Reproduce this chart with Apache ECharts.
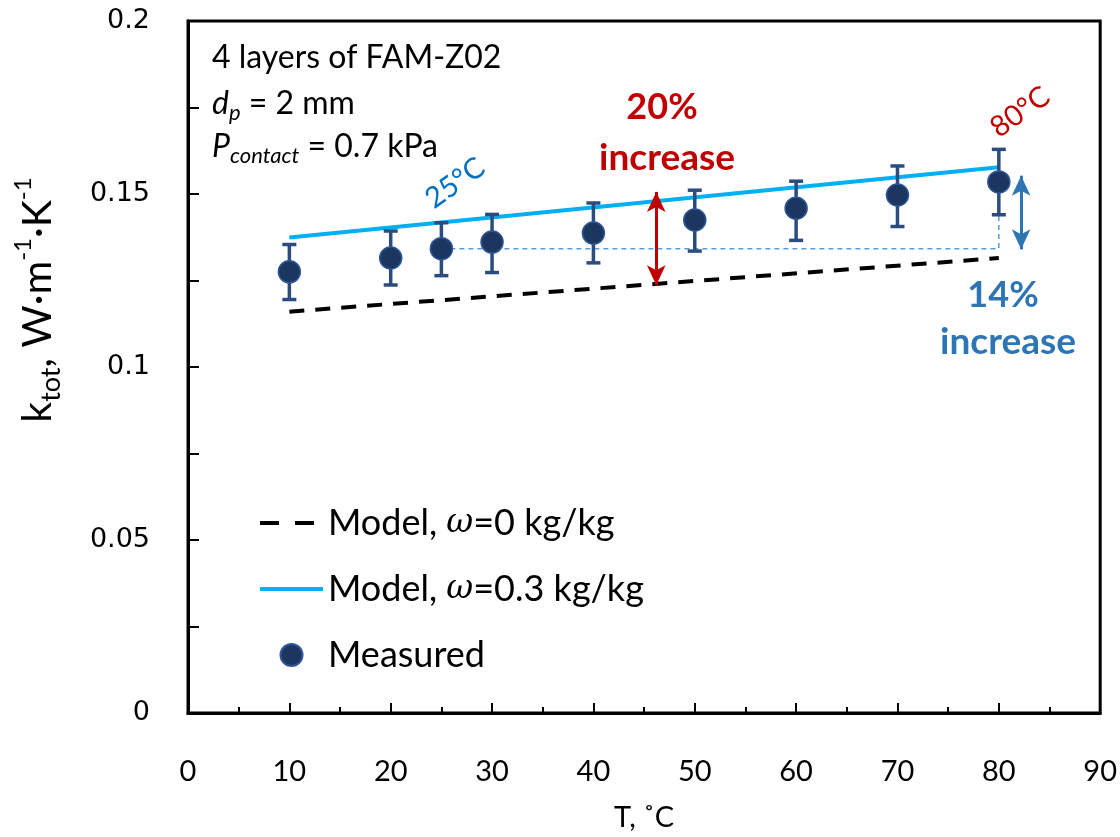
<!DOCTYPE html>
<html>
<head>
<meta charset="utf-8">
<script src="https://cdn.jsdelivr.net/npm/echarts@6/dist/echarts.min.js"></script>
<style>html,body{margin:0;padding:0;background:#fff}#c{width:1120px;height:837px}</style>
</head>
<body>
<div id="c"></div>
<script>
// ---- data ----
const T = [10, 20, 25, 30, 40, 50, 60, 70, 80];
const measured = [0.1275, 0.1315, 0.1342, 0.1361, 0.1387, 0.1425, 0.1459, 0.1497, 0.1535];
const errLow  = [0.1195, 0.1237, 0.1264, 0.1273, 0.1301, 0.1335, 0.1366, 0.1406, 0.1440];
const errHigh = [0.1354, 0.1393, 0.1417, 0.1441, 0.1474, 0.1511, 0.1537, 0.1581, 0.1629];
const modelT = [10, 80];
const modelDry = [0.1160, 0.1315];
const modelWet = [0.1374, 0.1577];
const refT = [25, 80, 80];
const refK = [0.1342, 0.1342, 0.1577];
const arrowRed = [[46.2, 0.1236], [46.2, 0.1506]];
const arrowBlue = [[82.2, 0.1340], [82.2, 0.1553]];
const xTicks = [0, 90, 10];
const yTicks = [0, 0.2, 0.05];
const seriesNames = ['Model, ω=0 kg/kg', 'Model, ω=0.3 kg/kg', 'Measured'];

const chart = echarts.init(document.getElementById('c'));
const zip = (a, b) => a.map((v, i) => [v, b[i]]);
const F = 'Lato';

const option = {
  animation: false,
  grid: { left: 188, right: 19, top: 21, bottom: 120, show: true, borderColor: '#000', borderWidth: 3, containLabel: false },
  xAxis: {
    type: 'value', min: xTicks[0], max: xTicks[1], interval: xTicks[2],
    name: 'T, ˚C', nameLocation: 'middle', nameGap: 90,
    nameTextStyle: { fontFamily: F, fontSize: 29, color: '#000' },
    axisLine: { show: true, onZero: false, lineStyle: { color: '#000', width: 3 } },
    axisTick: { show: true, inside: true, length: 10, lineStyle: { color: '#000', width: 2 } },
    minorTick: { show: true, splitNumber: 2, length: 6, lineStyle: { color: '#000', width: 2 } },
    axisLabel: { margin: 44, fontFamily: F, fontSize: 29, color: '#000' },
    splitLine: { show: false }
  },
  yAxis: {
    type: 'value', min: yTicks[0], max: yTicks[1], interval: yTicks[2],
    axisLine: { show: true, onZero: false, lineStyle: { color: '#000', width: 3 } },
    axisTick: { show: true, inside: true, length: 11, lineStyle: { color: '#000', width: 2 } },
    minorTick: { show: true, splitNumber: 2, length: 11, lineStyle: { color: '#000', width: 2 } },
    axisLabel: { margin: 38, fontFamily: 'DejaVu Sans', fontSize: 27, color: '#000' },
    splitLine: { show: false }
  },
  legend: {
    orient: 'vertical', left: 253, top: 496,
    itemWidth: 63, itemHeight: 22, itemGap: 22,
    data: [
      { name: seriesNames[0], itemStyle: { opacity: 0 }, lineStyle: { type: [19, 16], width: 4 } },
      { name: seriesNames[1], itemStyle: { opacity: 0 }, lineStyle: { width: 4 } },
      { name: seriesNames[2] }
    ],
    formatter: n => n.replace('ω', '{i|ω}'),
    textStyle: { fontFamily: F, fontSize: 36, color: '#000', lineHeight: 44,
      rich: { i: { fontFamily: 'DejaVu Serif', fontStyle: 'italic', fontSize: 33, color: '#000' } } }
  },
  series: [
    {
      name: seriesNames[0], type: 'line', data: zip(modelT, modelDry), symbol: 'none',
      lineStyle: { color: '#000', width: 4, type: [15, 11] }, itemStyle: { color: '#000' }, z: 3
    },
    {
      name: seriesNames[1], type: 'line', data: zip(modelT, modelWet), symbol: 'none',
      lineStyle: { color: '#00B0F0', width: 4 }, itemStyle: { color: '#00B0F0' }, z: 3
    },
    {
      name: 'ref', type: 'line', data: zip(refT, refK), symbol: 'none', silent: true,
      lineStyle: { color: '#5B9BD5', width: 1.5, type: [5, 4] }, z: 2,
      markLine: {
        silent: true, symbol: ['arrow', 'arrow'], symbolSize: [14, 20],
        label: { show: false },
        data: [
          [{ coord: arrowRed[0], lineStyle: { color: '#C00000', width: 3, type: 'solid' }, itemStyle: { color: '#C00000' } },
           { coord: arrowRed[1] }],
          [{ coord: arrowBlue[0], lineStyle: { color: '#2E75B6', width: 3, type: 'solid' }, itemStyle: { color: '#2E75B6' } },
           { coord: arrowBlue[1] }]
        ]
      }
    },
    {
      name: 'err', type: 'custom', z: 4,
      data: T.map((t, i) => [t, errLow[i], errHigh[i]]),
      renderItem: (params, api) => {
        const lo = api.coord([api.value(0), api.value(1)]);
        const hi = api.coord([api.value(0), api.value(2)]);
        const w = 7;
        const st = { stroke: '#2B4C7E', lineWidth: 3.5 };
        return { type: 'group', children: [
          { type: 'line', shape: { x1: lo[0], y1: lo[1], x2: hi[0], y2: hi[1] }, style: st },
          { type: 'line', shape: { x1: lo[0] - w, y1: lo[1], x2: lo[0] + w, y2: lo[1] }, style: st },
          { type: 'line', shape: { x1: hi[0] - w, y1: hi[1], x2: hi[0] + w, y2: hi[1] }, style: st }
        ]};
      }
    },
    {
      name: seriesNames[2], type: 'scatter', data: zip(T, measured), symbol: 'circle', symbolSize: 22, z: 5,
      itemStyle: { color: '#1B365F', borderColor: '#2F5597', borderWidth: 1.5, opacity: 1 }
    }
  ],
  graphic: [
    { type: 'text', x: 212, y: 58, style: { text: '4 layers of FAM-Z02', font: '32px Lato', fill: '#000', verticalAlign: 'middle' } },
    { type: 'text', x: 212, y: 104, style: {
        text: '{i|d}{s|p}{a| = 2 mm}', fill: '#000', verticalAlign: 'middle',
        rich: { a: { fontFamily: F, fontSize: 32, lineHeight: 40 },
                i: { fontFamily: F, fontStyle: 'italic', fontSize: 32, lineHeight: 40 },
                s: { fontFamily: F, fontStyle: 'italic', fontSize: 22, lineHeight: 22, verticalAlign: 'bottom' } } } },
    { type: 'text', x: 212, y: 147, style: {
        text: '{i|P}{s|contact}{a| = 0.7 kPa}', fill: '#000', verticalAlign: 'middle',
        rich: { a: { fontFamily: F, fontSize: 32, lineHeight: 40 },
                i: { fontFamily: F, fontStyle: 'italic', fontSize: 32, lineHeight: 40 },
                s: { fontFamily: F, fontStyle: 'italic', fontSize: 22, lineHeight: 22, verticalAlign: 'bottom' } } } },
    { type: 'text', x: 662, y: 107, style: { text: '20%', font: 'bold 36px Lato', fill: '#C00000', align: 'center', verticalAlign: 'middle' } },
    { type: 'text', x: 667, y: 158, style: { text: 'increase', font: 'bold 37px Lato', fill: '#C00000', align: 'center', verticalAlign: 'middle' } },
    { type: 'text', x: 1003, y: 295, style: { text: '14%', font: 'bold 36px Lato', fill: '#2E75B6', align: 'center', verticalAlign: 'middle' } },
    { type: 'text', x: 1008, y: 342, style: { text: 'increase', font: 'bold 37px Lato', fill: '#2E75B6', align: 'center', verticalAlign: 'middle' } },
    { type: 'text', x: 455, y: 183, rotation: 0.62, style: { text: '25°C', font: '29px Lato', fill: '#0070C0', align: 'center', verticalAlign: 'middle' } },
    { type: 'text', x: 1020, y: 112, rotation: 0.62, style: { text: '80°C', font: '29px Lato', fill: '#C00000', align: 'center', verticalAlign: 'middle' } },
    { type: 'text', x: 38, y: 300, rotation: Math.PI / 2, style: {
        text: '{a|k}{s|tot}{a|, W·m}{p|-1}{a|·K}{p|-1}', fill: '#000', align: 'center', verticalAlign: 'middle',
        rich: { a: { fontFamily: F, fontSize: 41, lineHeight: 54 },
                s: { fontFamily: F, fontSize: 27, lineHeight: 27, verticalAlign: 'bottom' },
                p: { fontFamily: F, fontSize: 24, lineHeight: 24, verticalAlign: 'top' } } } }
  ]
};
chart.setOption(option);
</script>
</body>
</html>
